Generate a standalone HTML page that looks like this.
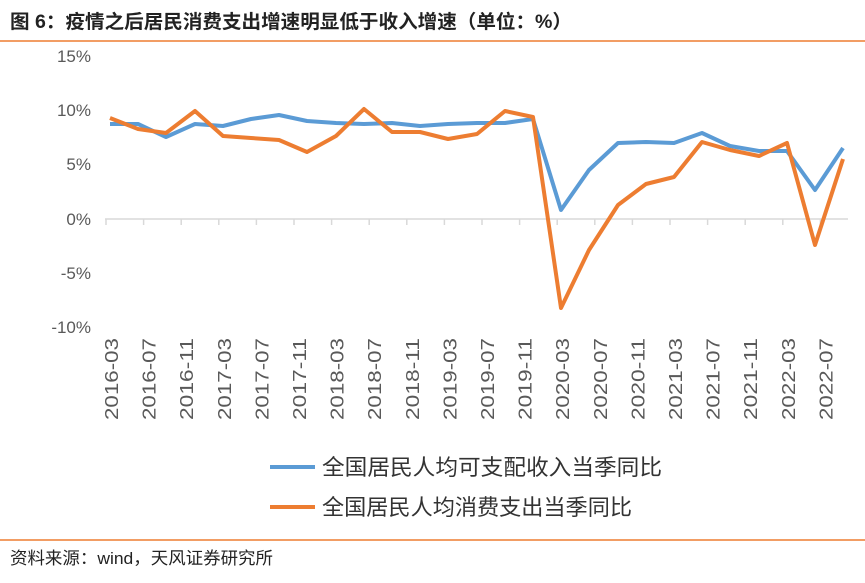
<!DOCTYPE html>
<html><head><meta charset="utf-8"><style>
body{margin:0;background:#fff;width:865px;height:578px;overflow:hidden;font-family:"Liberation Sans","Noto Sans CJK SC",sans-serif}
</style></head><body>
<svg width="865" height="578" xmlns="http://www.w3.org/2000/svg" font-family="Liberation Sans, Noto Sans CJK SC, sans-serif">
<text x="10" y="28" font-size="19" font-weight="bold" fill="#222" textLength="562" lengthAdjust="spacingAndGlyphs">图 6：疫情之后居民消费支出增速明显低于收入增速（单位：%）</text>
<line x1="0" y1="41" x2="865" y2="41" stroke="#ED7D31" stroke-width="1.5"/>
<g font-size="17" fill="#595959" text-anchor="end">
<text x="91" y="62">15%</text><text x="91" y="116">10%</text><text x="91" y="170">5%</text>
<text x="91" y="225">0%</text><text x="91" y="279">-5%</text><text x="91" y="333">-10%</text>
</g>
<line x1="105" y1="219" x2="848" y2="219" stroke="#d9d9d9" stroke-width="1.5"/>
<g stroke="#d9d9d9" stroke-width="1.5" id="ticks"></g>
<g font-size="18.5" fill="#595959" id="xl"></g>
<polyline fill="none" stroke="#5B9BD5" stroke-width="4" stroke-linejoin="round" points="110,124 138,124 166,137 195,124 223,126 251,119 279,115 307,121 336,123 364,124 392,123 420,126 448,124 477,123 505,123 533,119 561,210 589,170 618,143 646,142 674,143 702,133 730,146 759,151 787,151 815,190 843,148"/>
<polyline fill="none" stroke="#ED7D31" stroke-width="4" stroke-linejoin="round" points="110,118 138,129 166,133 195,111 223,136 251,138 279,140 307,152 336,136 364,109 392,132 420,132 448,139 477,134 505,111 533,117 561,308 589,250 618,205 646,184 674,177 702,142 730,150 759,156 787,143 815,245 843,159"/>
<line x1="270" y1="467" x2="315" y2="467" stroke="#5B9BD5" stroke-width="4"/>
<text x="322" y="475" font-size="22" fill="#333" textLength="340" lengthAdjust="spacingAndGlyphs">全国居民人均可支配收入当季同比</text>
<line x1="270" y1="507" x2="315" y2="507" stroke="#ED7D31" stroke-width="4"/>
<text x="322" y="515" font-size="22" fill="#333" textLength="310" lengthAdjust="spacingAndGlyphs">全国居民人均消费支出当季同比</text>
<line x1="0" y1="540" x2="865" y2="540" stroke="#ED7D31" stroke-width="1.5"/>
<text x="10" y="564" font-size="17" fill="#222" textLength="263" lengthAdjust="spacingAndGlyphs">资料来源：wind，天风证券研究所</text>
</svg>
<script>
var labs=["2016-03","2016-07","2016-11","2017-03","2017-07","2017-11","2018-03","2018-07","2018-11","2019-03","2019-07","2019-11","2020-03","2020-07","2020-11","2021-03","2021-07","2021-11","2022-03","2022-07"];
var xl=document.getElementById("xl"),tk=document.getElementById("ticks"),ns="http://www.w3.org/2000/svg";
for(var i=0;i<labs.length;i++){var x=107+i*37.6;
var t=document.createElementNS(ns,"text");t.setAttribute("transform","translate("+(x+11)+",420) rotate(-90)");t.setAttribute("textLength","82");t.setAttribute("lengthAdjust","spacingAndGlyphs");t.textContent=labs[i];xl.appendChild(t);
var l=document.createElementNS(ns,"line");var tx=x-1;l.setAttribute("x1",tx);l.setAttribute("x2",tx);l.setAttribute("y1",219);l.setAttribute("y2",225);tk.appendChild(l);}
</script>
</body></html>
